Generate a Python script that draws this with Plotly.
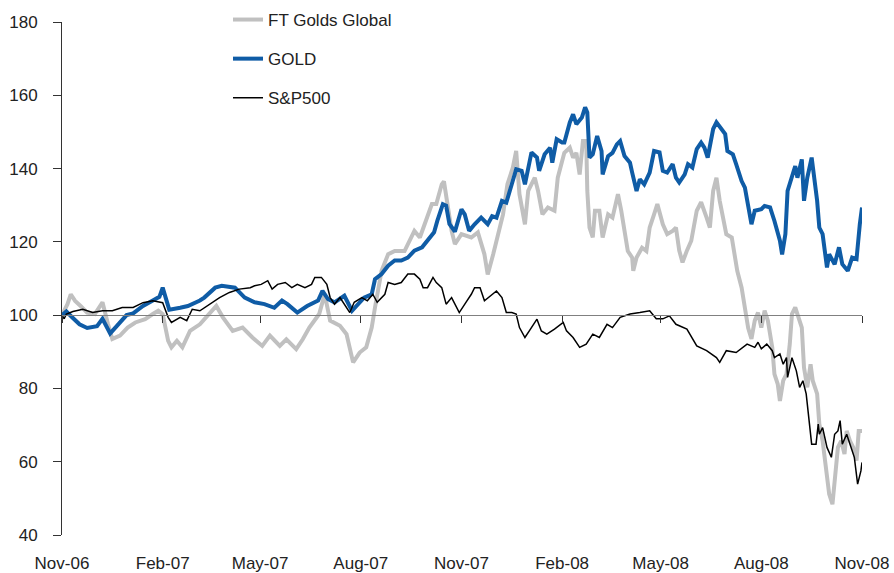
import pandas as pd
import plotly.graph_objects as go

start = pd.Timestamp("2006-11-01")

# days since 1 Nov 2006, index values (start = 100)
ft_days = [0, 5, 8, 12, 17, 23, 30, 34, 37, 42, 46, 53, 60, 67, 76, 83, 88, 92, 97, 100,
           105, 110, 117, 126, 135, 141, 147, 156, 165, 174, 183, 190, 199, 205, 214, 220, 226, 235, 240, 245,
           254, 260, 266, 272, 278, 283, 286, 292, 298, 304, 313, 318, 322, 327, 333, 338, 342, 347, 349, 351,
           356, 359, 365, 374, 380, 386, 389, 394, 398, 403, 407, 412, 415, 418, 423, 426, 432, 435, 439, 444,
           450, 453, 459, 464, 467, 470, 473, 476, 479, 480, 482, 485, 487, 491, 494, 499, 503, 508, 511, 514,
           517, 521, 522, 525, 530, 534, 537, 541, 544, 549, 553, 558, 561, 564, 567, 571, 575, 580, 584, 589,
           592, 595, 598, 601, 604, 607, 612, 615, 617, 621, 624, 627, 630, 633, 636, 639, 642, 645, 649, 651,
           654, 656, 659, 662, 665, 667, 670, 672, 676, 678, 681, 684, 686, 690, 692, 695, 699, 701, 704, 707,
           709, 712, 715, 717, 720, 723, 726, 728, 731]
ft_vals = [100, 103, 105.7, 103.9, 102.5, 100.7, 100.3, 102.1, 103.5, 97.6, 93.5, 94.4, 96.6, 98, 98.9, 100.3, 101.2, 100.3, 93, 91.2,
           93, 91.2, 95.7, 97.5, 100.3, 102.5, 99.4, 95.7, 96.6, 93.9, 91.6, 94.4, 91.6, 93.4, 90.7, 93.4, 96.6, 100.3, 105.7, 98.5,
           97.1, 94.8, 87.1, 89.8, 91.2, 96.6, 102.1, 112.1, 116.6, 117.5, 117.5, 120.3, 123, 121.2, 126.6, 130.3, 130.3, 135.7, 136.5, 132.1,
           123, 119.4, 122.1, 121.2, 122.6, 116.6, 111.1, 116.6, 121.2, 127.5, 135.7, 140.3, 144.8, 133, 124.8, 133.9, 137.5, 133.9, 127.5, 129.4,
           128.5, 137.5, 144.3, 145.7, 143, 144.3, 138.4, 147.5, 147.5, 133.9, 123.9, 121.2, 128.5, 128.5, 121.2, 127.5, 126.6, 133, 128.5, 123,
           117.5, 115.7, 112.1, 115.7, 118.4, 117.5, 123.9, 127.5, 130.3, 124.8, 122.1, 123, 123.9, 117.6, 114.4, 117.6, 120.3, 128.5, 130.8, 126.6,
           123.9, 133.9, 137.5, 131.2, 126.6, 122.1, 121.2, 116.6, 112.1, 107.5, 102.1, 96.5, 93.5, 98.5, 100.7, 96.6, 101.2, 98.5, 91.2, 83.9,
           81.2, 76.6, 82.1, 83.9, 92.1, 100.3, 102.1, 100.3, 96.6, 85.7, 80.3, 86.6, 82.1, 78.5, 70.3, 65.7, 56.6, 51.2, 48.4, 58.4,
           63.9, 65.7, 62.1, 68.4, 65.7, 63.9, 60.3, 68.4, 68.4]

gold_days = [0, 4, 9, 16, 23, 32, 37, 44, 50, 59, 65, 74, 83, 89, 92, 96, 98, 108, 115, 126,
             130, 140, 146, 158, 167, 176, 185, 194, 201, 206, 215, 224, 234, 238, 243, 249, 258, 265, 270, 276,
             283, 286, 292, 298, 304, 310, 316, 322, 329, 334, 340, 343, 348, 351, 354, 359, 365, 368, 372, 377,
             383, 389, 393, 397, 402, 406, 411, 415, 420, 423, 429, 434, 436, 441, 446, 448, 452, 457, 459, 464,
             467, 470, 475, 478, 480, 482, 485, 489, 493, 494, 499, 503, 507, 510, 514, 519, 521, 525, 528, 532,
             537, 541, 546, 549, 553, 558, 561, 564, 569, 572, 576, 580, 584, 587, 590, 595, 598, 603, 606, 608,
             613, 616, 621, 624, 627, 630, 633, 639, 642, 647, 651, 656, 658, 661, 663, 667, 670, 672, 676, 678,
             681, 685, 688, 690, 692, 695, 699, 701, 706, 710, 713, 718, 722, 726, 729, 730, 731]
gold_vals = [100, 101, 99.5, 97.5, 96.5, 97, 99, 95, 97, 100, 100.5, 102.5, 104, 105, 107.5, 104, 101.5, 102, 102.5, 104,
             104.8, 107.5, 108, 107.5, 104.8, 103.5, 103, 102, 104, 103, 100.7, 102.5, 104, 106.6, 104.4, 103.5, 105.3, 101.2, 103, 104.8,
             105.7, 109.8, 111.2, 113.5, 114.9, 114.9, 115.7, 117.6, 118.5, 120.3, 122.6, 125.8, 130.3, 129.9, 124.9, 122.8, 128.9, 127.5, 123, 124.8,
             126.6, 124.8, 127, 126.6, 131.2, 130.7, 135.7, 139.8, 139.4, 135.7, 144.4, 143, 139.4, 143.9, 145.7, 141.6, 148, 147.1, 147.1, 152.6,
             154.8, 152.1, 153.9, 156.7, 155.3, 143, 143.9, 148.9, 144.8, 138.4, 143.4, 144.3, 146.6, 147.5, 143.4, 141.6, 138.9, 133.9, 137.1, 135.7,
             138.9, 144.8, 144.4, 139.4, 138.9, 141.2, 137.5, 136.2, 138.4, 141.2, 140.3, 145.3, 147.1, 145.7, 143, 150.8, 152.6, 150.3, 149.4, 144.8,
             143.9, 141.2, 136.6, 134.8, 130.3, 124.8, 128.5, 128.9, 129.8, 129.4, 125.7, 120.3, 116.6, 122.1, 133.9, 137.5, 140.7, 137.5, 142.5, 131.2,
             137.5, 143, 135.7, 131.2, 123.9, 122.1, 113, 116.6, 113.9, 118.5, 113.9, 112.1, 115.7, 115.3, 124.8, 127.5, 129.4]

spx_days = [0, 2, 4, 10, 19, 28, 37, 46, 55, 65, 74, 83, 92, 97, 100, 108, 114, 119, 126, 135,
            144, 153, 162, 172, 176, 182, 188, 192, 197, 204, 210, 215, 222, 228, 231, 237, 242, 245, 249, 254,
            258, 263, 267, 274, 279, 284, 288, 295, 298, 304, 310, 316, 322, 327, 330, 334, 339, 342, 347, 351,
            356, 361, 363, 370, 374, 377, 382, 386, 393, 397, 402, 406, 411, 415, 418, 423, 427, 434, 438, 443,
            450, 458, 461, 467, 473, 479, 485, 491, 498, 503, 510, 519, 528, 537, 543, 549, 555, 561, 571, 580,
            589, 598, 601, 607, 616, 626, 633, 636, 639, 644, 649, 651, 656, 659, 662, 663, 667, 671, 674, 677,
            680, 683, 685, 689, 691, 692, 695, 699, 703, 706, 709, 711, 713, 717, 722, 724, 727, 730, 731]
spx_vals = [99.9, 99, 100.3, 101, 101.6, 100.7, 101.2, 101.2, 102.1, 102.1, 103.4, 103.9, 103.4, 99.4, 98, 99.4, 98.5, 101.6, 101.2, 103,
            104.8, 106.2, 107.1, 107.5, 108, 108.4, 109.4, 107.1, 108.4, 108.9, 107.5, 108.4, 107.5, 108.4, 110.3, 110.3, 108.4, 104.8, 103, 104.8,
            103, 100.7, 103.5, 104.8, 103.9, 105.7, 103.5, 105.7, 108.9, 108.4, 108.9, 111.2, 111.2, 109.8, 107.5, 107.5, 110.3, 108.9, 107.5, 103,
            104.8, 102.1, 100.7, 103.9, 105.7, 107.5, 107.5, 103.9, 105.7, 106.6, 104.8, 100.7, 100.7, 100.3, 96.6, 93.9, 95.7, 98.9, 95.7, 94.8,
            96.2, 98, 95.7, 93.9, 91.2, 92.1, 94.8, 93.9, 97.5, 96.6, 99.4, 100.3, 100.7, 101.2, 99, 99, 99.8, 97.5, 96.2, 91.6,
            90.3, 88.4, 87.1, 90.3, 89.8, 92.1, 91.2, 92.6, 90.8, 92.1, 90.3, 88.4, 89.4, 86.6, 88.4, 83, 88.4, 84.8, 80.3, 82.1,
            78.5, 71.2, 64.8, 64.8, 70.3, 67.5, 69.3, 63.9, 61.2, 67.5, 68.4, 71.2, 64.8, 67.5, 63, 61.2, 53.9, 57.5, 59.8]

def to_dates(days):
    return start + pd.to_timedelta(days, unit="D")

font_name = "Liberation Sans, Arial, sans-serif"
txt = "#222222"
x_range = ["2006-11-01", "2008-11-01"]

fig = go.Figure()
fig.add_trace(go.Scatter(x=to_dates(ft_days), y=ft_vals, mode="lines", name="FT Golds Global",
                         line=dict(color="#C0C0C0", width=4), legendgroup="a"))
fig.add_trace(go.Scatter(x=to_dates(gold_days), y=gold_vals, mode="lines", name="GOLD",
                         line=dict(color="#0F5CA6", width=4), legendgroup="b"))
fig.add_trace(go.Scatter(x=to_dates(spx_days), y=spx_vals, mode="lines", name="S&P500",
                         line=dict(color="#000000", width=1.5), legendgroup="c"))
# empty trace so the axis crossing at 100 gets drawn
fig.add_trace(go.Scatter(x=[], y=[], xaxis="x2", showlegend=False, hoverinfo="skip"))

fig.update_layout(
    width=894, height=573,
    margin=dict(l=62, r=32, t=22, b=38, autoexpand=False),
    paper_bgcolor="white", plot_bgcolor="white",
    font=dict(family=font_name, size=17, color=txt),
    showlegend=True,
    legend=dict(x=0.2075, y=1.039, xanchor="left", yanchor="top",
                bgcolor="rgba(0,0,0,0)", tracegroupgap=14,
                font=dict(family=font_name, size=17, color=txt)),
    xaxis=dict(type="date", range=x_range, tick0="2006-11-01", dtick="M3",
               tickformat="%b-%y", showgrid=False, zeroline=False, showline=False,
               ticks="", ticklabelstandoff=16),
    xaxis2=dict(type="date", range=x_range, tick0="2006-11-01", dtick="M3",
                overlaying="x", anchor="free", position=(100 - 40) / 140,
                showticklabels=False, showgrid=False, zeroline=False,
                showline=True, linecolor="#808080", linewidth=1,
                ticks="outside", ticklen=7, tickcolor="#333333"),
    yaxis=dict(range=[40, 180], dtick=20, showgrid=False, zeroline=False,
               showline=True, linecolor="#333333", linewidth=1,
               ticks="outside", ticklen=8, tickcolor="#333333",
               ticklabelstandoff=12),
)

fig.write_html("out.html", config={"displayModeBar": False},
               post_script="document.body.style.margin='0';")
